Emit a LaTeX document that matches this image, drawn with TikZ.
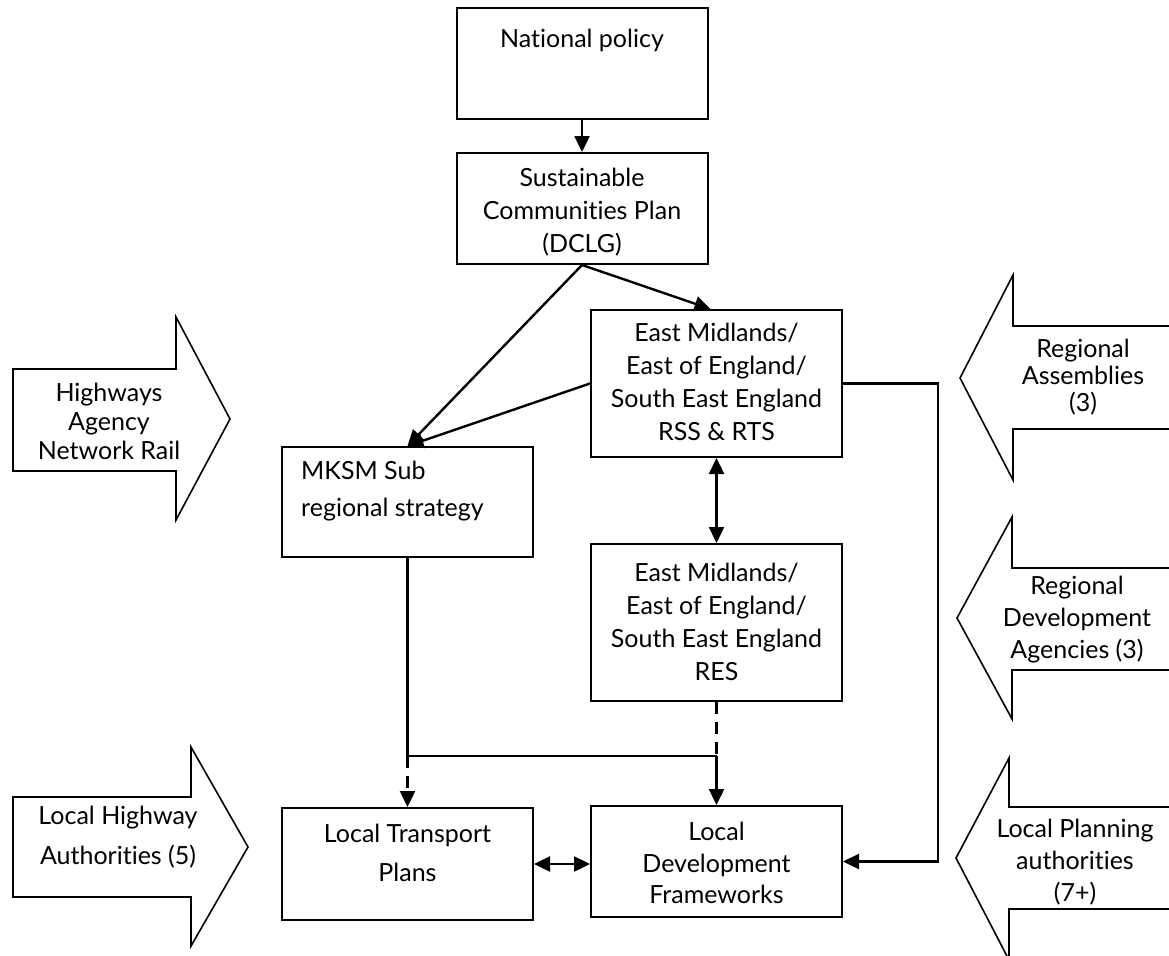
\documentclass[tikz,border=0pt]{standalone}
\usepackage{fontspec}
\setmainfont{Lato}[Ligatures={NoCommon}]
\usetikzlibrary{arrows.meta}

\begin{document}
\begin{tikzpicture}[x=1pt,y=-1pt,
  box/.style={draw,line width=2pt,inner sep=0pt,minimum width=251pt},
  txt/.style={inner sep=0pt,align=center,font=\fontsize{25}{33}\selectfont},
  blk/.style={draw,line width=1.6pt,line join=miter},
  tip/.style={-{Triangle[length=16pt,width=15pt]}},
  twotip/.style={{Triangle[length=16pt,width=15pt]}-{Triangle[length=16pt,width=15pt]}},
  conn/.style={line width=2.4pt},
  dsh/.style={line width=2.4pt,dash pattern=on 12pt off 8pt}]
\useasboundingbox (0,0) rectangle (1169,955);
\clip (0,0) rectangle (1169,955);

% ---- boxes ----
\node[box,minimum height=111pt] (np)   at (582,63.5)  {};
\node[box,minimum height=111pt] (scp)  at (582,208.5) {};
\node[box,minimum height=147pt] (rss)  at (716.5,383.5) {};
\node[box,minimum height=110pt] (mksm) at (407.5,502) {};
\node[box,minimum height=157pt] (res)  at (716.5,622.5) {};
\node[box,minimum height=112pt] (ltp)  at (407.5,864) {};
\node[box,minimum height=111pt] (ldf)  at (716.5,861.5) {};

% ---- box texts ----
\node[txt] (npT)   at (582,40)    {National policy};
\node[txt] (scpT)  at (582,212)   {Sustainable\\Communities Plan\\(DCLG)};
\node[txt] (rssT)  at (716.5,382) {East Midlands/\\East of England/\\South East England\\RSS \& RTS};
\node[txt,align=left,anchor=west,font=\fontsize{25}{37}\selectfont] (mksmT) at (301,491) {MKSM Sub\\regional strategy};
\node[txt] (resT)  at (716.5,622) {East Midlands/\\East of England/\\South East England\\RES};
\node[txt,font=\fontsize{25}{39}\selectfont] (ltpT) at (407.5,853) {Local Transport\\Plans};
\node[txt,font=\fontsize{25}{31.5}\selectfont] (ldfT) at (716.5,863) {Local\\Development\\Frameworks};

% ---- block arrows: left side ----
\draw[blk] (13,369) -- (176,369) -- (176,317) -- (230,419) -- (176,520) -- (176,471) -- (13,471) -- cycle;
\node[txt,font=\fontsize{25}{29}\selectfont] (hwT) at (109,421) {Highways\\Agency\\Network Rail};
\draw[blk] (13,797) -- (191,797) -- (191,747) -- (248,847) -- (191,946) -- (191,897) -- (13,897) -- cycle;
\node[txt,font=\fontsize{25}{40}\selectfont] (lhT) at (118,837) {Local Highway\\Authorities (5)};

% ---- block arrows: right side ----
\draw[blk] (1200,326) -- (1013,326) -- (1013,275) -- (960,378) -- (1013,480) -- (1013,429) -- (1200,429) -- cycle;
\node[txt,font=\fontsize{25}{27}\selectfont] (raT) at (1083,377) {Regional\\Assemblies\\(3)};
\draw[blk] (1200,568) -- (1012,568) -- (1012,517) -- (957,618) -- (1012,719) -- (1012,670) -- (1200,670) -- cycle;
\node[txt,font=\fontsize{25}{32}\selectfont] (rdaT) at (1077,620) {Regional\\Development\\Agencies (3)};
\draw[blk] (1200,807) -- (1009,807) -- (1009,758) -- (956,858) -- (1009,960) -- (1009,909) -- (1200,909) -- cycle;
\node[txt,font=\fontsize{25}{32}\selectfont] (lpT) at (1075,862) {Local Planning\\authorities\\(7+)};

% ---- connectors ----
\coordinate (j1) at (407.5,756);
\coordinate (j2) at (716.5,756);
\coordinate (r1) at (938,383.5);
\coordinate (r2) at (938,861.5);

\draw[conn,tip] (np.south) -- (scp.north);
\draw[conn,tip] (scp.south) -- (mksm.north);
\draw[conn,tip] (scp.south) -- ([xshift=-6pt]rss.north);
\draw[conn,tip] (rss.west) -- (mksm.north);
\draw[conn,twotip] (rss.south) -- (res.north);
\draw[conn] (mksm.south) -- (j1) -- (j2);
\draw[dsh] (res.south) -- (j2);
\draw[conn,tip] (j2) -- (ldf.north);
\draw[dsh,tip] (j1) -- (ltp.north);
\draw[conn,twotip] (ltp.east) -- (ltp.east -| ldf.west);
\draw[conn,tip] (rss.east) -- (r1) -- (r2) -- (ldf.east);
\end{tikzpicture}
\end{document}
